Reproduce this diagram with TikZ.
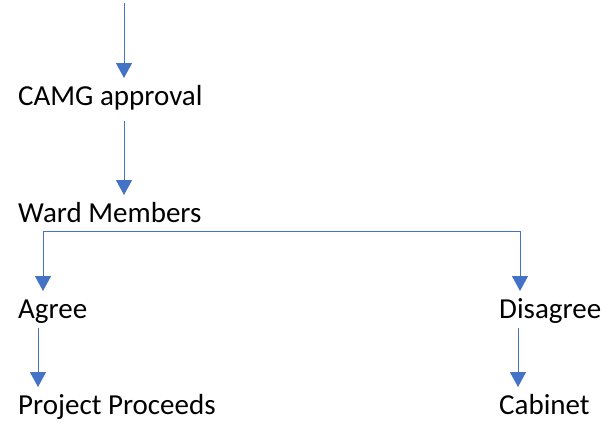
\documentclass[tikz,border=0pt]{standalone}
\usepackage{fontspec}
\setmainfont{Carlito}
\usepackage{tikz}
\usetikzlibrary{arrows.meta, positioning, calc}
\definecolor{azul}{HTML}{4472C4}
\tikzset{
  every picture/.style={font=\fontsize{29}{34}\selectfont, >=Stealth},
  lbl/.style={anchor=base west, inner xsep=0pt, inner ysep=0pt, text height=18pt,
              text depth=0pt, outer ysep=9pt, text=black},
  flecha/.style={-{Triangle[length=15pt, width=16pt]}, line width=1pt, azul},
}
\begin{document}
\begin{tikzpicture}[x=1pt, y=-1pt]
  \useasboundingbox (0,0) rectangle (607,423);
  \coordinate (inicio) at (124,3);
  \node[lbl] (camg) at (18,105) {CAMG approval};
  \node[lbl] (ward) at (18,222) {Ward Members};
  \node[lbl] (agree) at (18,318) {Agree};
  \node[lbl] (disagree) at (499,318) {Disagree};
  \node[lbl] (proceeds) at (18,414) {Project Proceeds};
  \node[lbl] (cabinet) at (499,414) {Cabinet};
  \coordinate (izq) at ([xshift=25pt]ward.south west);
  \coordinate (der) at ([xshift=21pt]ward.south -| disagree.west);
  \draw[flecha] (inicio) -- (inicio |- camg.north);
  \draw[flecha] ([yshift=-7pt]camg.south -| inicio) -- (inicio |- ward.north);
  \draw[flecha] (izq) -- (izq |- agree.north);
  \draw[flecha] (izq) -| (der |- disagree.north);
  \draw[flecha] ([xshift=20pt,yshift=-1pt]agree.south west) -- ([xshift=20pt]proceeds.north west);
  \draw[flecha] ([xshift=19pt,yshift=-1pt]disagree.south west) -- ([xshift=19pt]cabinet.north west);
\end{tikzpicture}
\end{document}
